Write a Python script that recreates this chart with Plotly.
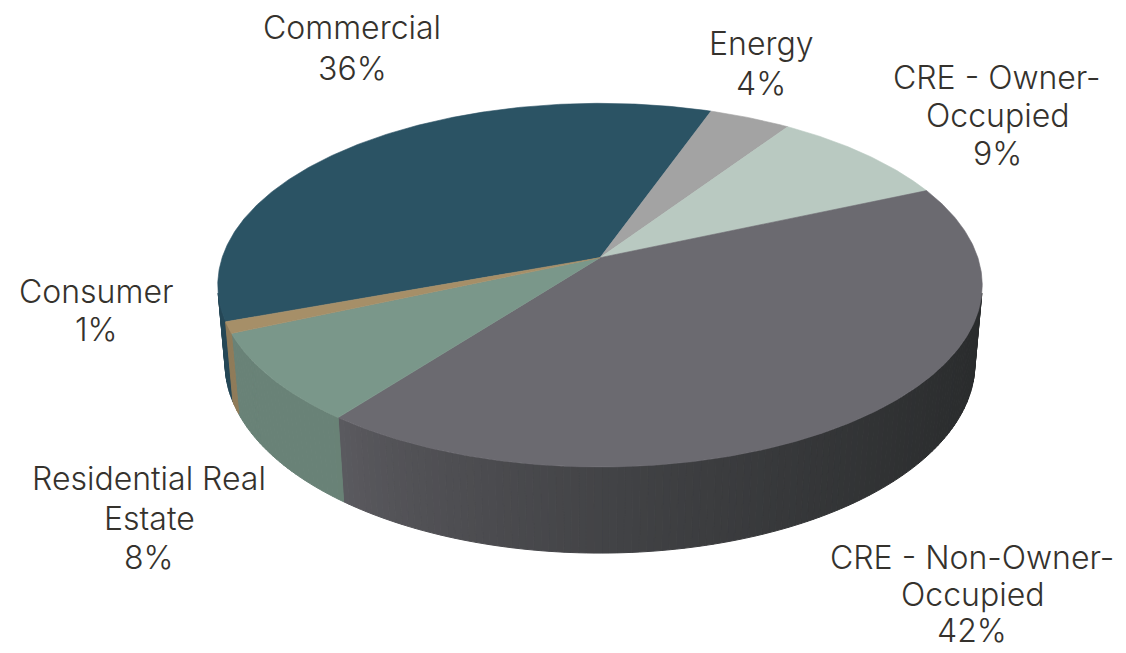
import numpy as np
import plotly.graph_objects as go

# Loan portfolio composition
categories = ["Commercial", "Energy", "CRE - Owner-Occupied", "CRE - Non-Owner-Occupied",
              "Residential Real Estate", "Consumer"]
name_lines = [["Commercial"], ["Energy"], ["CRE - Owner-", "Occupied"],
              ["CRE - Non-Owner-", "Occupied"], ["Residential Real", "Estate"], ["Consumer"]]
shares = [36, 4, 9, 42, 8, 1]

top_colors = ["#2B5364", "#A3A3A3", "#B9C9C1", "#6B6A70", "#7A978A", "#A68F68"]
side_dark = ["#1f3c49", "#6e6e6e", "#7e8b85", "#2a2c2d", "#55695f", "#7a6a4d"]

# label placement: centre x and the y of each text line (pixels)
label_x = [352, 761, 997, 972, 149, 96]
label_rows = [[27, 68], [43, 83], [77, 115, 153], [557, 594, 630], [478, 518, 557], [291, 329]]

W, H = 1126, 653

# perspective view of a flat disc (radius 1, thickness T)
CX, CY = 600.0, 257.7      # screen position of the disc centre
F = 2209.0                 # focal length
DIST = 5.846               # camera distance
TILT = np.radians(28.05)   # elevation of the camera
T = 0.236                  # thickness
START = 250.0              # angle of the first slice, clockwise from 12 o'clock
S, C = np.sin(TILT), np.cos(TILT)


def project(phi_deg, z):
    phi = np.radians(phi_deg)
    x, y = np.sin(phi), np.cos(phi)
    yc = y * S + z * C
    zc = DIST + y * C - z * S
    return CX + F * x / zc, CY - F * yc / zc


def hex_rgb(h):
    h = h.lstrip("#")
    return np.array([int(h[i:i + 2], 16) for i in (0, 2, 4)], float)


def mix(a, b, t):
    c = a * (1 - t) + b * t
    return "rgb(%d,%d,%d)" % tuple(np.clip(np.round(c), 0, 255))


fig = go.Figure()

total = float(sum(shares))
bounds = [START]
for v in shares:
    bounds.append(bounds[-1] + 360.0 * v / total)

# visible part of the outer wall
lim = np.degrees(np.arccos(-1.0 / (DIST * C)))
vis_lo, vis_hi = lim, 360 - lim

# outer wall, drawn in narrow strips for shading
for i in range(len(shares)):
    a0, a1 = bounds[i], bounds[i + 1]
    for off in (-360, 0, 360):
        lo, hi = max(a0 + off, vis_lo), min(a1 + off, vis_hi)
        if hi <= lo:
            continue
        n = max(1, int(np.ceil((hi - lo) / 1.0)))
        edges = np.linspace(lo, hi, n + 1)
        light = hex_rgb(top_colors[i]) * 0.86
        dark = hex_rgb(side_dark[i])
        for k in range(n):
            e0, e1 = edges[k], edges[k + 1]
            angs = np.linspace(e0, e1, 3)
            tx, ty = project(angs, 0.0)
            bx, by = project(angs[::-1], -T)
            xs = np.concatenate([tx, bx, tx[:1]])
            ys = np.concatenate([ty, by, ty[:1]])
            mid = np.radians(0.5 * (e0 + e1))
            t = float(np.clip((np.sin(mid) + 0.62) / 1.55, 0, 1)) ** 0.75
            col = mix(light, dark, t)
            fig.add_trace(go.Scatter(x=xs, y=ys, mode="lines", fill="toself",
                                     fillcolor=col, line=dict(color=col, width=1),
                                     hoverinfo="skip", showlegend=False))

# top faces
for i in range(len(shares)):
    a0, a1 = bounds[i], bounds[i + 1]
    n = max(2, int(np.ceil((a1 - a0) / 0.5)))
    angs = np.linspace(a0, a1, n + 1)
    rx, ry = project(angs, 0.0)
    xs = np.concatenate([[CX], rx, [CX]])
    ys = np.concatenate([[CY], ry, [CY]])
    fig.add_trace(go.Scatter(x=xs, y=ys, mode="lines", fill="toself",
                             fillcolor=top_colors[i],
                             line=dict(color=top_colors[i], width=0.6),
                             name=categories[i], hoverinfo="name", showlegend=False))

# data labels: category name lines followed by the share
label_font = dict(family="Inter, Open Sans, sans-serif", size=32, color="#35322d", weight=300)
for i in range(len(shares)):
    lines = name_lines[i] + [f"{shares[i]}%"]
    for txt, ly in zip(lines, label_rows[i]):
        fig.add_annotation(x=label_x[i], y=ly, xref="x", yref="y", text=txt,
                           showarrow=False, xanchor="center", yanchor="middle",
                           borderpad=0, font=label_font)

fig.update_layout(
    width=W, height=H,
    margin=dict(l=0, r=0, t=0, b=0),
    paper_bgcolor="white", plot_bgcolor="white",
    xaxis=dict(range=[0, W], visible=False, fixedrange=True),
    yaxis=dict(range=[H, 0], visible=False, fixedrange=True),
    showlegend=False,
)

fig.write_html("out.html")
